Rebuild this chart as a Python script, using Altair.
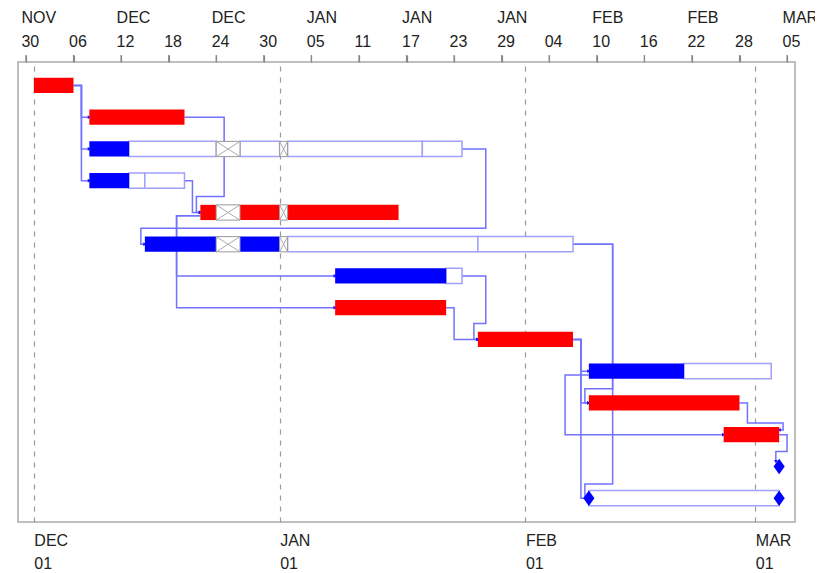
import altair as alt
import pandas as pd

FONT = "Liberation Sans"

# ---------------- data ----------------
# task bar segments: row, start, end, kind
seg_row = [1, 2,
           3, 3, 3, 3, 3, 3, 3,
           4, 4, 4,
           5, 5, 5, 5, 5,
           6, 6, 6, 6, 6, 6,
           7, 7,
           8, 9,
           10, 10,
           11, 12, 14]
seg_start = ["2023-12-01", "2023-12-08",
             "2023-12-08", "2023-12-13", "2023-12-24", "2023-12-27", "2024-01-01", "2024-01-02", "2024-01-19",
             "2023-12-08", "2023-12-13", "2023-12-15",
             "2023-12-22", "2023-12-24", "2023-12-27", "2024-01-01", "2024-01-02",
             "2023-12-15", "2023-12-24", "2023-12-27", "2024-01-01", "2024-01-02", "2024-01-26",
             "2024-01-08", "2024-01-22",
             "2024-01-08", "2024-01-26",
             "2024-02-09", "2024-02-21",
             "2024-02-09", "2024-02-26", "2024-02-09"]
seg_end = ["2023-12-06", "2023-12-20",
           "2023-12-13", "2023-12-24", "2023-12-27", "2024-01-01", "2024-01-02", "2024-01-19", "2024-01-24",
           "2023-12-13", "2023-12-15", "2023-12-20",
           "2023-12-24", "2023-12-27", "2024-01-01", "2024-01-02", "2024-01-16",
           "2023-12-24", "2023-12-27", "2024-01-01", "2024-01-02", "2024-01-26", "2024-02-07",
           "2024-01-22", "2024-01-24",
           "2024-01-22", "2024-02-07",
           "2024-02-21", "2024-03-03",
           "2024-02-28", "2024-03-04", "2024-03-04"]
seg_kind = ["critical", "critical",
            "progress", "remaining", "holiday", "remaining", "holiday", "remaining", "remaining",
            "progress", "remaining", "remaining",
            "critical", "holiday", "critical", "holiday", "critical",
            "progress", "holiday", "progress", "holiday", "remaining", "remaining",
            "progress", "remaining",
            "critical", "critical",
            "progress", "remaining",
            "critical", "critical", "remaining"]

# milestones
ms_row = [13, 14, 14]
ms_date = ["2024-03-04", "2024-02-09", "2024-03-04"]

# dependency links: polyline waypoints (link id, date, row)
H = "T12:00:00Z"
link_id = (["a"] * 4 + ["b"] * 4 + ["c"] * 4 + ["d"] * 6 + ["e"] * 4 + ["f"] * 6 +
           ["g"] * 4 + ["h"] * 4 + ["i"] * 6 + ["j"] * 4 + ["k"] * 6 + ["l"] * 6 +
           ["m"] * 4 + ["n"] * 4 + ["o"] * 4 + ["p"] * 4 + ["q"] * 6 + ["r"] * 5)
link_date = [
    "2023-12-06", "2023-12-07", "2023-12-07", "2023-12-08",
    "2023-12-06", "2023-12-07", "2023-12-07", "2023-12-08",
    "2023-12-06", "2023-12-07", "2023-12-07", "2023-12-08",
    "2023-12-20", "2023-12-25", "2023-12-25", "2023-12-21" + H, "2023-12-21" + H, "2023-12-22",
    "2023-12-20", "2023-12-21", "2023-12-21", "2023-12-22",
    "2024-01-24", "2024-01-27", "2024-01-27", "2023-12-14" + H, "2023-12-14" + H, "2023-12-15",
    "2023-12-22", "2023-12-19", "2023-12-19", "2024-01-08",
    "2023-12-22", "2023-12-19", "2023-12-19", "2024-01-08",
    "2024-01-24", "2024-01-27", "2024-01-27", "2024-01-25" + H, "2024-01-25" + H, "2024-01-26",
    "2024-01-22", "2024-01-23", "2024-01-23", "2024-01-26",
    "2024-02-07", "2024-02-12", "2024-02-12", "2024-02-08" + H, "2024-02-08" + H, "2024-02-09",
    "2024-02-07", "2024-02-12", "2024-02-12", "2024-02-08" + H, "2024-02-08" + H, "2024-02-09",
    "2024-02-07", "2024-02-08", "2024-02-08", "2024-02-09",
    "2024-02-07", "2024-02-08", "2024-02-08", "2024-02-09",
    "2024-02-07", "2024-02-08", "2024-02-08", "2024-02-09",
    "2024-02-09", "2024-02-06", "2024-02-06", "2024-02-26",
    "2024-02-28", "2024-02-29", "2024-02-29", "2024-03-04" + H, "2024-03-04" + H, "2024-03-04",
    "2024-03-04", "2024-03-05", "2024-03-05", "2024-03-03T14:00:00Z", "2024-03-03T14:00:00Z",
]
link_row = [
    1, 1, 2, 2,
    1, 1, 3, 3,
    1, 1, 4, 4,
    2, 2, 4.5, 4.5, 5, 5,
    4, 4, 5, 5,
    3, 3, 5.5, 5.5, 6, 6,
    5.1, 5.1, 7, 7,
    5.1, 5.1, 8, 8,
    7, 7, 8.5, 8.5, 9, 9,
    8, 8, 9, 9,
    6, 6, 10.55, 10.55, 11, 11,
    6, 6, 13.55, 13.55, 14, 14,
    9, 9, 10, 10,
    9, 9, 11, 11,
    9, 9, 14, 14,
    10.12, 10.12, 12, 12,
    11, 11, 11.63, 11.63, 11.85, 11.85,
    12, 12, 12.53, 12.53, 12.85,
]

# axis tick values
top_ticks = ["2023-11-30", "2023-12-06", "2023-12-12", "2023-12-18", "2023-12-24", "2023-12-30",
             "2024-01-05", "2024-01-11", "2024-01-17", "2024-01-23", "2024-01-29", "2024-02-04",
             "2024-02-10", "2024-02-16", "2024-02-22", "2024-02-28", "2024-03-05"]
month_starts = ["2023-12-01", "2024-01-01", "2024-02-01", "2024-03-01"]
x_domain = ["2023-11-29", "2024-03-06"]
y_domain = [0.26, 14.75]


def dt(s):
    y, m, d = map(int, s[:10].split("-"))
    return alt.DateTime(year=y, month=m, date=d, utc=True)


BAR_HALF = 0.24
seg = pd.DataFrame({"row": seg_row, "start": seg_start, "end": seg_end, "kind": seg_kind})
seg["top"] = seg["row"] - BAR_HALF
seg["bottom"] = seg["row"] + BAR_HALF

ms = pd.DataFrame({"row": ms_row, "date": ms_date})
ticks_df = pd.DataFrame({"date": top_ticks})

links = pd.DataFrame({"link": link_id, "date": link_date, "row": link_row})
links["seq"] = range(len(links))

# arrow heads at the end of every link
ends = []
for lid, g in links.groupby("link", sort=False):
    a, b = g.iloc[-2], g.iloc[-1]
    if a["row"] == b["row"]:
        shape = "triangle-right" if b["date"] > a["date"] else "triangle-left"
    else:
        shape = "triangle-down"
    ends.append({"date": b["date"], "row": b["row"], "shape": shape})
ends = pd.DataFrame(ends)

xscale = alt.Scale(type="utc", domain=[dt(d) for d in x_domain], nice=False)
yscale = alt.Scale(domain=y_domain, reverse=True, zero=False, nice=False)

# month name only on every other top tick (counted from the first one)
top_label_expr = (
    "[round((datum.value - utc(2023, 10, 30)) / (864e5 * 6)) % 2 == 0 ? "
    "upper(utcFormat(datum.value, '%b')) : '', utcFormat(datum.value, '%d')]"
)
bottom_label_expr = "[upper(utcFormat(datum.value, '%b')), utcFormat(datum.value, '%d')]"

top_axis = alt.Axis(orient="top", values=[dt(d) for d in top_ticks], labelExpr=top_label_expr,
                    labelAlign="left", labelOffset=-5, labelBaseline="bottom", labelPadding=30,
                    labelLineHeight=24, labelFontSize=16, labelFont=FONT, labelColor="#222222",
                    labelFlush=False, labelOverlap=False, labelBound=False,
                    ticks=True, tickSize=7, tickColor="#888888", tickWidth=1.2,
                    domain=False, grid=False, title=None)

bottom_axis = alt.Axis(orient="bottom", values=[dt(d) for d in month_starts], labelExpr=bottom_label_expr,
                       labelAlign="left", labelBaseline="top", labelPadding=10,
                       labelLineHeight=23, labelFontSize=16, labelFont=FONT, labelColor="#222222",
                       labelFlush=False, labelOverlap=False, labelBound=False,
                       ticks=False, tickSize=0, domain=False,
                       grid=True, gridDash=[5, 6], gridColor="#999999", gridWidth=1.2, title=None)

yenc = dict(scale=yscale, axis=None)

# small tick marks above the frame at the top-axis dates
tick_layer = alt.Chart(ticks_df).mark_rule(color="#888888", strokeWidth=1.2).encode(
    x=alt.X("date:T", scale=xscale, axis=None),
    y=alt.value(-7),
    y2=alt.value(0),
)

link_layer = alt.Chart(links).mark_line(color="#7272ff", strokeWidth=1.5).encode(
    x=alt.X("date:T", scale=xscale, axis=bottom_axis),
    y=alt.Y("row:Q", **yenc),
    detail="link:N",
    order="seq:Q",
)

arrow_layer = alt.Chart(ends).mark_point(filled=True, size=14, color="#1010ff", opacity=1).encode(
    x=alt.X("date:T", scale=xscale, axis=None),
    y=alt.Y("row:Q", **yenc),
    shape=alt.Shape("shape:N", scale=None, legend=None),
)

rest_layer = alt.Chart(seg).transform_filter("datum.kind == 'remaining'").mark_rect(
    fill="white", stroke="#a0a0ff", strokeWidth=1.5
).encode(
    x=alt.X("start:T", scale=xscale, axis=top_axis),
    x2="end:T",
    y=alt.Y("top:Q", **yenc),
    y2="bottom:Q",
)

fill_layer = alt.Chart(seg).transform_filter(
    "datum.kind == 'critical' || datum.kind == 'progress'"
).mark_rect().encode(
    x=alt.X("start:T", scale=xscale, axis=None),
    x2="end:T",
    y=alt.Y("top:Q", **yenc),
    y2="bottom:Q",
    color=alt.Color("kind:N", scale=alt.Scale(domain=["critical", "progress"],
                                              range=["#ff0000", "#0000ff"]), legend=None),
)

hol = alt.Chart(seg).transform_filter("datum.kind == 'holiday'")
hol_box = hol.mark_rect(fill="white", stroke="#999999", strokeWidth=1).encode(
    x=alt.X("start:T", scale=xscale, axis=None), x2="end:T",
    y=alt.Y("top:Q", **yenc), y2="bottom:Q",
)
hol_d1 = hol.mark_rule(color="#aaaaaa", strokeWidth=1).encode(
    x=alt.X("start:T", scale=xscale, axis=None), x2="end:T",
    y=alt.Y("top:Q", **yenc), y2="bottom:Q",
)
hol_d2 = hol.mark_rule(color="#aaaaaa", strokeWidth=1).encode(
    x=alt.X("start:T", scale=xscale, axis=None), x2="end:T",
    y=alt.Y("bottom:Q", **yenc), y2="top:Q",
)

ms_layer = alt.Chart(ms).mark_point(
    shape="M0,-1L0.72,0L0,1L-0.72,0Z", filled=True, size=240, color="#0000ff", opacity=1
).encode(
    x=alt.X("date:T", scale=xscale, axis=None),
    y=alt.Y("row:Q", **yenc),
)

chart = alt.layer(
    link_layer, tick_layer, arrow_layer, rest_layer, fill_layer, hol_box, hol_d1, hol_d2, ms_layer
).resolve_axis(x="independent").properties(
    width=777, height=460,
    autosize=alt.AutoSizeParams(type="none"),
    padding={"left": 10, "top": 54, "right": 20, "bottom": 51},
    background="white",
).configure_view(stroke="#aaaaaa", strokeWidth=1.5)

chart.save("out.html", embed_options={"renderer": "svg", "actions": False})
